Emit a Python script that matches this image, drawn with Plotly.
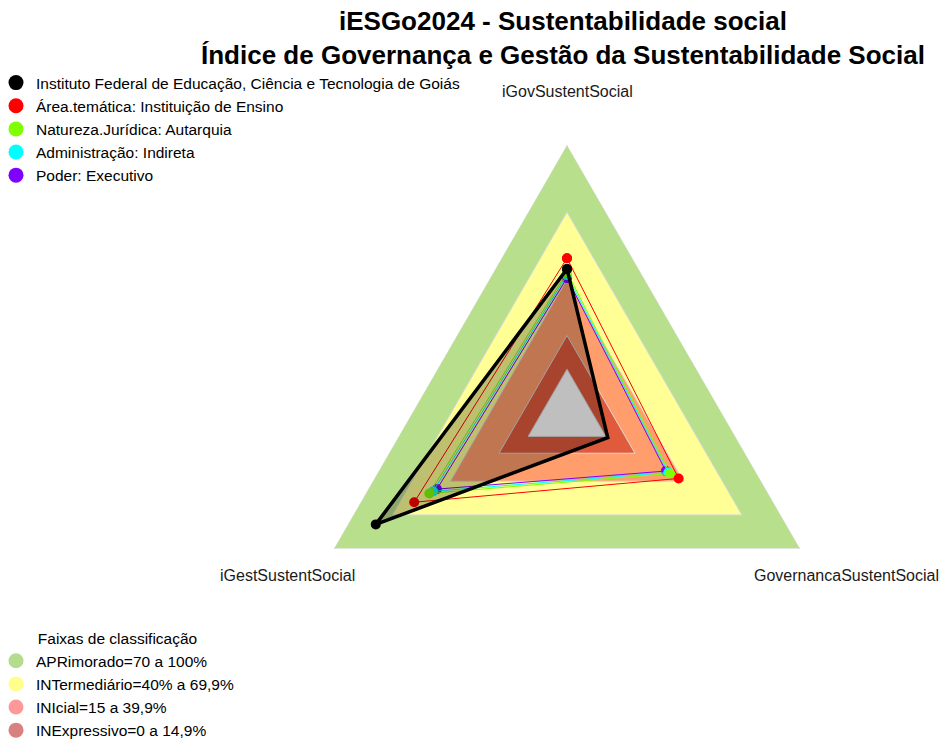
import math
import plotly.graph_objects as go

# ---------------- data ----------------
categories = ["iGovSustentSocial", "GovernancaSustentSocial", "iGestSustentSocial"]

series_names = [
    "Instituto Federal de Educação, Ciência e Tecnologia de Goiás",
    "Área.temática: Instituição de Ensino",
    "Natureza.Jurídica: Autarquia",
    "Administração: Indireta",
    "Poder: Executivo",
]
ifg_values = [44.7, 1.0, 78.5]
area_values = [49.5, 37.5, 58.7]
natureza_values = [43.3, 33.1, 50.9]
admin_values = [42.0, 32.2, 49.0]
poder_values = [40.7, 30.9, 47.0]
series_values = [ifg_values, area_values, natureza_values, admin_values, poder_values]
series_colors = ["#000000", "#FF0000", "#80FF00", "#00FFFF", "#8000FF"]

band_names = [
    "APRimorado=70 a 100%",
    "INTermediário=40% a 69,9%",
    "INIcial=15 a 39,9%",
    "INExpressivo=0 a 14,9%",
]
band_upper = [100, 70, 40, 15]
band_fill = ["#B8E08C", "#FFFF96", "#FF9E6C", "#E05A3C"]
band_legend_colors = ["#B4DC8C", "#FFFF8C", "#FF9999", "#D98080"]

radial_min, radial_max = -20, 100

# ---------------- layout geometry ----------------
W, H = 943, 740
cx, cy, R = 567, 414, 269  # pixel centre & radius of the radar

font_family = "Liberation Sans, Arial, sans-serif"

fig = go.Figure()

closed_theta = categories + [categories[0]]

# background bands
for v, col in zip(band_upper, band_fill):
    fig.add_trace(go.Scatterpolar(
        r=[v] * 4, theta=closed_theta, mode="lines", fill="toself",
        fillcolor=col, line=dict(color="#D9D9D9", width=1),
        hoverinfo="skip", showlegend=False))
# area below zero (white centre)
fig.add_trace(go.Scatterpolar(
    r=[0] * 4, theta=closed_theta, mode="lines", fill="toself",
    fillcolor="#FFFFFF", line=dict(color="#D9D9D9", width=1),
    hoverinfo="skip", showlegend=False))

# data series (draw coloured first, black on top)
order = [4, 3, 2, 1, 0]
for i in order:
    vals = series_values[i]
    col = series_colors[i]
    is_main = i == 0
    fig.add_trace(go.Scatterpolar(
        r=vals + [vals[0]], theta=closed_theta,
        mode="lines+markers",
        fill="toself" if is_main else None,
        fillcolor="rgba(0,0,0,0.25)" if is_main else None,
        line=dict(color=col, width=3.5 if is_main else 1),
        marker=dict(color=col, size=10),
        name=series_names[i], showlegend=False))

# legend entries (markers only)
for name, col in zip(series_names, series_colors):
    fig.add_trace(go.Scatterpolar(
        r=[None], theta=[None], mode="markers",
        marker=dict(color=col, size=15), name=name,
        legend="legend", showlegend=True))
for name, col in zip(band_names, band_legend_colors):
    fig.add_trace(go.Scatterpolar(
        r=[None], theta=[None], mode="markers",
        marker=dict(color=col, size=15), name=name,
        legend="legend2", showlegend=True))

# axis labels at 1.2 x radius (as in the original radar layout)
annotations = []
n = len(categories)
for k, cat in enumerate(categories):
    ang = math.radians(90 - 360 * k / n)
    px = cx + 1.2 * R * math.cos(ang)
    py = cy - 1.2 * R * math.sin(ang)
    annotations.append(dict(
        text=cat, x=px / W, y=1 - py / H, xref="paper", yref="paper",
        xanchor="center", yanchor="middle", showarrow=False,
        font=dict(family=font_family, size=16, color="#1A1A1A")))

# title
annotations.append(dict(
    text="<b>iESGo2024 - Sustentabilidade social</b><br>"
         "<b>Índice de Governança e Gestão da Sustentabilidade Social</b>",
    x=563 / W, y=1 - 4 / H, xref="paper", yref="paper",
    xanchor="center", yanchor="top", align="center", showarrow=False,
    font=dict(family=font_family, size=26, color="#000000")))

# cut-off heading remnant at the very top-left
annotations.append(dict(
    text="Social", x=0, y=1 - 7 / H, xref="paper", yref="paper",
    xanchor="left", yanchor="bottom", showarrow=False,
    font=dict(family=font_family, size=26, color="#2F5597")))

legend_font = dict(family=font_family, size=15.5, color="#000000")

fig.update_layout(
    width=W, height=H,
    margin=dict(l=0, r=0, t=0, b=0, autoexpand=False),
    paper_bgcolor="white",
    polar=dict(
        domain=dict(x=[(cx - R) / W, (cx + R) / W],
                    y=[1 - (cy + R) / H, 1 - (cy - R) / H]),
        bgcolor="rgba(0,0,0,0)",
        gridshape="linear",
        radialaxis=dict(range=[radial_min, radial_max], showticklabels=False,
                        ticks="", showline=False,
                        tickvals=[0, 15, 40, 70],
                        gridcolor="#D9D9D9", gridwidth=1),
        angularaxis=dict(categoryorder="array", categoryarray=categories,
                         rotation=90, direction="clockwise",
                         showticklabels=False, ticks="", showline=False,
                         gridcolor="#D9D9D9", gridwidth=1),
    ),
    legend=dict(x=-4 / W, xanchor="left", y=1 - 66 / H, yanchor="top",
                bgcolor="rgba(0,0,0,0)", tracegroupgap=0,
                font=legend_font),
    legend2=dict(x=-4 / W, xanchor="left", y=1 - 624 / H, yanchor="top",
                 bgcolor="rgba(0,0,0,0)", tracegroupgap=0,
                 title=dict(text="Faixas de classificação", side="top center",
                            font=legend_font),
                 font=legend_font),
    annotations=annotations,
)

fig.write_html("out.html", config={"displayModeBar": False},
               post_script="document.body.style.margin='0';")
